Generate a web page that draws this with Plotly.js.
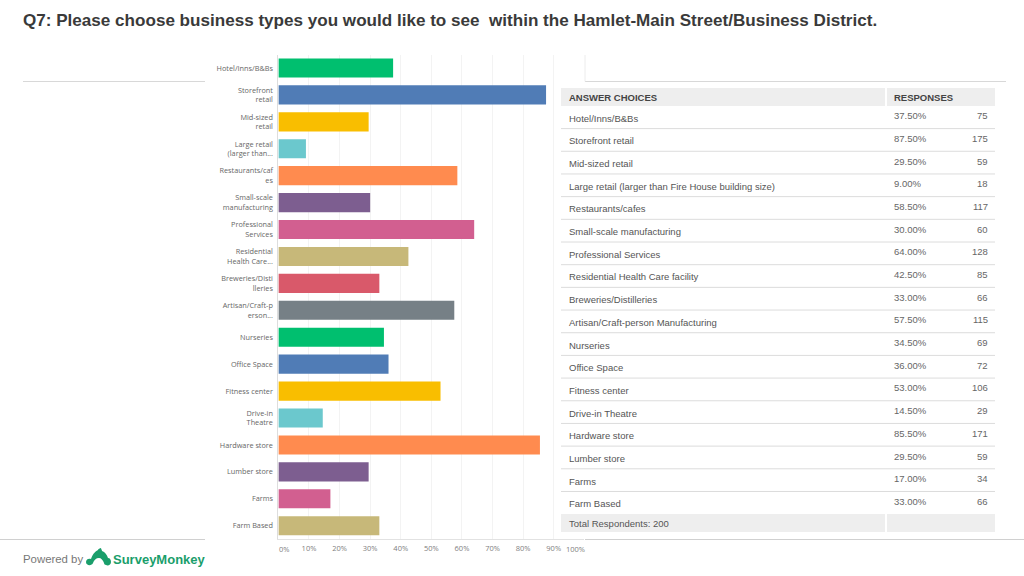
<!DOCTYPE html>
<html>
<head>
<meta charset="utf-8">
<script src="https://cdn.plot.ly/plotly-3.0.1.min.js"></script>
<style>
    html, body { margin: 0; padding: 0; background: #fff; overflow: hidden; }
</style>
</head>
<body>
<div id="chart" style="width:1024px;height:576px"></div>
<script>
const chartLabels = ['Hotel/Inns/B&Bs', 'Storefront<br>retail', 'Mid-sized<br>retail', 'Large retail<br>(larger than...',
    'Restaurants/caf<br>es', 'Small-scale<br>manufacturing', 'Professional<br>Services', 'Residential<br>Health Care...',
    'Breweries/Disti<br>lleries', 'Artisan/Craft-p<br>erson...', 'Nurseries', 'Office Space', 'Fitness center',
    'Drive-in<br>Theatre', 'Hardware store', 'Lumber store', 'Farms', 'Farm Based'];
const answerChoices = ['Hotel/Inns/B&Bs', 'Storefront retail', 'Mid-sized retail', 'Large retail (larger than Fire House building size)',
    'Restaurants/cafes', 'Small-scale manufacturing', 'Professional Services', 'Residential Health Care facility',
    'Breweries/Distilleries', 'Artisan/Craft-person Manufacturing', 'Nurseries', 'Office Space', 'Fitness center',
    'Drive-in Theatre', 'Hardware store', 'Lumber store', 'Farms', 'Farm Based'];
const percents = [37.5, 87.5, 29.5, 9, 58.5, 30, 64, 42.5, 33, 57.5, 34.5, 36, 53, 14.5, 85.5, 29.5, 17, 33];
const counts = [75, 175, 59, 18, 117, 60, 128, 85, 66, 115, 69, 72, 106, 29, 171, 59, 34, 66];
const barColors = ['#00bf6f', '#507cb6', '#f9be00', '#6bc8cd', '#ff8b4f', '#7d5e90', '#d25f90', '#c7b879', '#d9596a', '#768086',
    '#00bf6f', '#507cb6', '#f9be00', '#6bc8cd', '#ff8b4f', '#7d5e90', '#d25f90', '#c7b879'];
const xTicks = [10, 20, 30, 40, 50, 60, 70, 80, 90];

const W = 1024, H = 576;
const fx = (x) => x / W;
const fy = (y) => 1 - y / H;
const pt = (x, y) => `${fx(x)},${fy(y)}`;

function textAt(text, x, y, size, color, anchor, family) {
    return {
        text: text, xref: 'paper', yref: 'paper', x: fx(x), y: fy(y),
        xanchor: anchor || 'left', yanchor: 'middle', showarrow: false,
        borderpad: 0, borderwidth: 0,
        font: { family: family || 'Liberation Sans', size: size, color: color }
    };
}

function box(x0, y0, x1, y1, color) {
    return { type: 'rect', xref: 'paper', yref: 'paper', x0: fx(x0), x1: fx(x1), y0: fy(y0), y1: fy(y1),
        fillcolor: color, line: { width: 0 }, layer: 'below' };
}

function rule(x0, x1, y, color) {
    return { type: 'line', xref: 'paper', yref: 'paper', x0: fx(x0), x1: fx(x1), y0: fy(y), y1: fy(y),
        line: { color: color, width: 1 }, layer: 'below' };
}

const annotations = [
    textAt('<b>Q7: Please choose business types you would like to see \u00a0within the Hamlet-Main Street/Business District.</b>', 23, 20.5, 17.08, '#3a3a3a'),
    textAt('<b>ANSWER CHOICES</b>', 568.5, 97, 9.5, '#444'),
    textAt('<b>RESPONSES</b>', 893.5, 97, 9.5, '#444'),
    textAt('Total Respondents: 200', 568.5, 523, 9.5, '#555'),
    textAt('Powered by', 23, 559, 11.4, '#777'),
    textAt('<b>SurveyMonkey</b>', 113, 559.5, 13, '#1a9e6b'),
    // the first and last axis labels sit off their gridlines in the original
    textAt('0%', 284, 548.5, 7.5, '#808080', 'center', 'Open Sans'),
    textAt('100%', 575, 548.5, 7.5, '#808080', 'center', 'Open Sans')
];

const shapes = [
    rule(23, 205, 81.5, '#d8d8d8'),
    rule(585, 1006, 81.5, '#d8d8d8'),
    { type: 'line', xref: 'paper', yref: 'paper', x0: fx(585), x1: fx(585), y0: fy(55), y1: fy(81.5),
        line: { color: '#ececec', width: 1 }, layer: 'below' },
    rule(0, 205, 539.5, '#d0d0d0'),
    rule(585, 1024, 539.5, '#d0d0d0'),
    box(561, 88, 885, 106, '#eeeeee'),
    box(887, 88, 995, 106, '#eeeeee'),
    box(561, 514, 885, 532, '#eeeeee'),
    box(887, 514, 995, 532, '#eeeeee'),
    {
        type: 'path', xref: 'paper', yref: 'paper', fillcolor: '#1a9e6b', line: { width: 0 },
        path: `M${pt(86, 562)} C${pt(86, 559)} ${pt(89, 558)} ${pt(91, 559)} C${pt(93, 553)} ${pt(96, 551)} ${pt(98, 550)} ` +
            `C${pt(98, 549)} ${pt(100, 548)} ${pt(101, 548)} C${pt(101, 549)} ${pt(102, 550)} ${pt(102, 551)} ` +
            `C${pt(105, 552)} ${pt(107, 555)} ${pt(108, 558)} C${pt(110, 558)} ${pt(111, 560)} ${pt(111, 562)} ` +
            `C${pt(111, 565)} ${pt(108, 566)} ${pt(106, 565)} C${pt(105, 565)} ${pt(104, 564)} ${pt(104, 563)} ` +
            `C${pt(103, 560)} ${pt(101, 558)} ${pt(99, 558)} C${pt(96, 558)} ${pt(94, 560)} ${pt(93, 563)} ` +
            `C${pt(92, 566)} ${pt(86, 566)} ${pt(86, 562)} Z`
    }
];

for (let i = 0; i < answerChoices.length; i++) {
    const labelY = 118.2 + i * 22.68;
    const valueY = 115.8 + i * 22.68;
    annotations.push(textAt(answerChoices[i].replace(/&/g, '&amp;'), 568.5, labelY, 9.5, '#555'));
    annotations.push(textAt(percents[i].toFixed(2) + '%', 893.5, valueY, 9.5, '#666'));
    annotations.push(textAt(String(counts[i]), 988, valueY, 9.5, '#666', 'right'));
    if (i < answerChoices.length - 1) {
        shapes.push(rule(561, 995, 128.6 + i * 22.68, '#dcdcdc'));
    }
}

var data = [{
    type: 'bar',
    orientation: 'h',
    x: percents,
    y: chartLabels,
    marker: { color: barColors, line: { width: 0 } },
    hoverinfo: 'none'
}];

var layout = {
    width: W,
    height: H,
    margin: { l: 0, r: 0, t: 0, b: 0 },
    paper_bgcolor: '#ffffff',
    plot_bgcolor: '#ffffff',
    showlegend: false,
    bargap: 0.29,
    xaxis: {
        domain: [fx(278.4), fx(584.3)],
        range: [0, 100],
        tickvals: xTicks,
        ticktext: xTicks.map((v) => v + '%'),
        tickfont: { family: 'Open Sans', size: 7.5, color: '#808080' },
        ticks: '',
        ticklabelstandoff: 2,
        showgrid: true,
        gridcolor: '#f3f3f3',
        zeroline: false,
        showline: true,
        linecolor: '#e2e2e2',
        fixedrange: true
    },
    yaxis: {
        domain: [fy(539.2), fy(54.5)],
        autorange: 'reversed',
        type: 'category',
        tickfont: { family: 'Open Sans', size: 7.3, color: '#666666' },
        ticks: '',
        ticklabelstandoff: 3,
        showgrid: false,
        zeroline: false,
        showline: true,
        linecolor: '#dddddd',
        fixedrange: true
    },
    annotations: annotations,
    shapes: shapes
};

Plotly.newPlot('chart', data, layout, { displayModeBar: false, staticPlot: true });
</script>
</body>
</html>
